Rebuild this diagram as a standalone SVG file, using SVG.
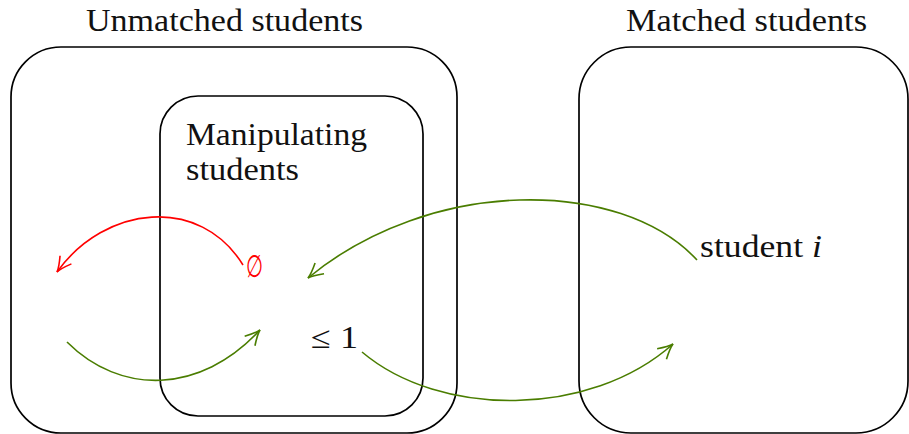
<svg xmlns="http://www.w3.org/2000/svg" width="909" height="434" viewBox="0 0 909 434">
<style>
.box{fill:none;stroke:#000;stroke-width:1.7}
.t{font-family:"Liberation Serif","DejaVu Serif",serif;font-size:31px;fill:#111}
.g{fill:none;stroke:#4a7d00;stroke-width:1.6}
.r{fill:none;stroke:#ff0000;stroke-width:1.6}
</style>
<defs>
<marker id="ag" markerWidth="20" markerHeight="18" refX="0" refY="0" viewBox="-18 -9 20 18" orient="auto" markerUnits="userSpaceOnUse">
<path d="M-15,-7 Q-5,-1 0,0 Q-5,1 -15,7" fill="none" stroke="#4a7d00" stroke-width="1.6"/>
</marker>
<marker id="ar" markerWidth="20" markerHeight="18" refX="0" refY="0" viewBox="-18 -9 20 18" orient="auto" markerUnits="userSpaceOnUse">
<path d="M-15,-7 Q-5,-1 0,0 Q-5,1 -15,7" fill="none" stroke="#ff0000" stroke-width="1.6"/>
</marker>
</defs>
<g id="unmatched">
<rect class="box" x="11" y="47" width="446" height="386" rx="50" ry="50"/>
<text class="t" x="86" y="31" textLength="277" lengthAdjust="spacingAndGlyphs">Unmatched students</text>
</g>
<g id="manipulating">
<rect class="box" x="160" y="96" width="263" height="320" rx="38" ry="38"/>
<text class="t" x="186" y="145" textLength="181" lengthAdjust="spacingAndGlyphs">Manipulating</text>
<text class="t" x="186" y="180" textLength="113" lengthAdjust="spacingAndGlyphs">students</text>
</g>
<g id="matched">
<rect class="box" x="579" y="47" width="329" height="386" rx="52" ry="52"/>
<text class="t" x="626" y="31" textLength="241" lengthAdjust="spacingAndGlyphs">Matched students</text>
</g>
<g id="empty"><text class="t" x="246" y="277" style="fill:#ff0000" textLength="17" lengthAdjust="spacingAndGlyphs">∅</text></g>
<g id="le1"><text class="t" x="311" y="348" textLength="47" lengthAdjust="spacingAndGlyphs">≤ 1</text></g>
<g id="studenti"><text class="t" x="700" y="257" textLength="122" lengthAdjust="spacingAndGlyphs">student <tspan font-style="italic">i</tspan></text></g>
<g id="connectors">
<path class="r" d="M243,265 C200,195 105,205 57,272" marker-end="url(#ar)"/>
<path class="g" d="M67,342 C120,395 200,395 260,330" marker-end="url(#ag)"/>
<path class="g" d="M697,260 C620,177 430,177 308,278" marker-end="url(#ag)"/>
<path class="g" d="M362,352 C440,418 590,418 673,344" marker-end="url(#ag)"/>
</g>
</svg>
